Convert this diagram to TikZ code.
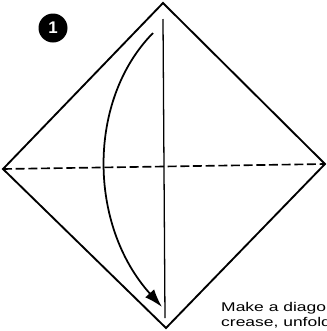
\documentclass[tikz,border=0pt]{standalone}
\usepackage{fontspec}
\setmainfont{Liberation Sans}
\newfontfamily\widesans[FakeStretch=1.38]{Liberation Sans}
\usetikzlibrary{arrows.meta,positioning}

\begin{document}
\begin{tikzpicture}[x=0.3mm,y=-0.3mm,>={Latex[length=5.5mm,width=3.6mm]},
  edge/.style={draw=black,line width=1.6pt,line join=miter},
  fold/.style={draw=black,line width=1.4pt,dash pattern=on 2.7mm off 1.1mm},
  crease/.style={draw=black,line width=1.1pt},
  move/.style={draw=black,line width=1.5pt,->},
  stepno/.style={circle,fill=black,minimum size=8.7mm,inner sep=0pt,
                 text=white,font=\bfseries\Large},
  note/.style={font=\widesans\fontsize{10.8}{12.8}\selectfont,align=left,
               anchor=north west,inner sep=0pt}]

% ---- page frame ----
\useasboundingbox (0,0) rectangle (326,331);
\clip (0,0) rectangle (326,331);

% ---- square paper, corner up ----
\coordinate (top) at (163,3);
\coordinate (right) at (325,164);
\coordinate (bot) at (166,328);
\coordinate (left) at (3,169);
\draw[edge] (top) -- (right) -- (bot) -- (left) -- cycle;

% ---- valley fold line ----
\draw[fold] (left) -- (right);

% ---- existing crease ----
\coordinate (cr1) at (163,19);
\coordinate (cr2) at (165,318);
\draw[crease] (cr1) -- (cr2);

% ---- fold arrow ----
\coordinate (a1) at (153,33);
\coordinate (a2) at (162,307);
\draw[move] (a1) .. controls (87,100) and (88,225) .. (a2);

% ---- step number ----
\node[stepno] (num) at (53,28) {1};

% ---- instruction ----
\node[note] (txt) at (221,302) {Make a diagonal\\crease, unfold.};
\end{tikzpicture}
\end{document}
